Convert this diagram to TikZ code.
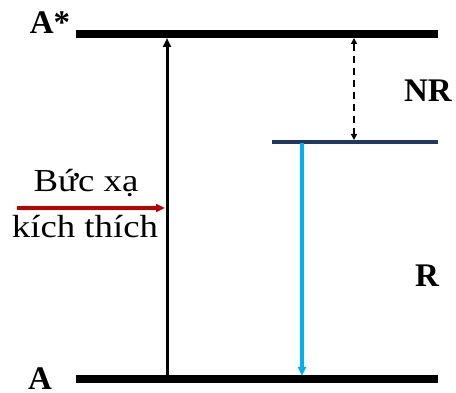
\documentclass[tikz,border=0pt]{standalone}
\usepackage{fontspec}
\setmainfont{Liberation Serif}
\newfontfamily\widefont[FakeStretch=1.15]{Liberation Serif}
\usepackage{xcolor}
\usetikzlibrary{arrows.meta, positioning}
\definecolor{levelnavy}{HTML}{1F3864}
\definecolor{emitblue}{HTML}{00B0F0}
\definecolor{excitered}{HTML}{C00000}

\begin{document}
\begin{tikzpicture}[x=1pt, y=-1pt,
    level/.style={line width=7.5pt},
    lbl/.style={font=\fontsize{33}{36}\selectfont\bfseries, anchor=base, inner sep=0pt},
    txt/.style={font=\widefont\fontsize{32}{36}\selectfont, anchor=base, inner sep=0pt},
    arr/.style={-{Triangle[length=9pt, width=8pt]}, line width=3pt}
]
    \useasboundingbox (0,0) rectangle (456,393);
    % energy levels
    \coordinate (up-l) at (76,34);   \coordinate (up-r) at (438,34);
    \coordinate (mid-l) at (272,142); \coordinate (mid-r) at (438,142);
    \coordinate (gr-l) at (76,379);  \coordinate (gr-r) at (438,379);
    \draw[level] (up-l) -- (up-r);
    \draw[level] (gr-l) -- (gr-r);
    \draw[levelnavy, line width=3.5pt] (mid-l) -- (mid-r);
    % labels
    \node[lbl] (astar) at (50,34) {A*};
    \node[lbl] (aground) at (40,389) {A};
    \node[lbl] (nr) at (428,102) {NR};
    \node[lbl] (r) at (427,287) {R};
    \node[txt] (buc) at (86,192) {Bức xạ};
    \node[txt] (kich) at (85,238) {kích thích};
    % transitions
    \coordinate (exc-b) at (167,376); \coordinate (exc-t) at (167,38);
    \coordinate (nr-t) at (354,38);   \coordinate (nr-b) at (354,140);
    \coordinate (em-t) at (302,143);  \coordinate (em-b) at (302,376);
    \coordinate (in-l) at (17,208);   \coordinate (in-r) at (165,208);
    \draw[arr] (exc-b) -- (exc-t);
    \draw[{Triangle[length=6pt, width=6pt]}-{Triangle[length=6pt, width=6pt]}, line width=2pt, dash pattern=on 7pt off 5pt] (nr-t) -- (nr-b);
    \draw[arr, emitblue, line width=3.5pt] (em-t) -- (em-b);
    \draw[arr, excitered, line width=3.5pt] (in-l) -- (in-r);
\end{tikzpicture}
\end{document}
